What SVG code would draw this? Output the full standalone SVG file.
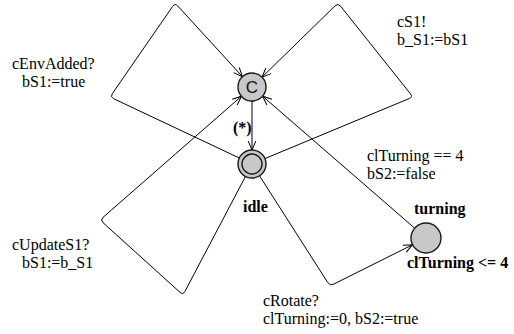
<svg xmlns="http://www.w3.org/2000/svg" width="514" height="334" viewBox="0 0 514 334">
<style>
.loc{fill:#c8c8c8;stroke:#1a1a1a;stroke-width:1.4}
.edge{fill:none;stroke:#000;stroke-width:1}
.lbl{font-family:"Liberation Serif","Times New Roman",serif;font-size:16px;fill:#000}
.bold{font-weight:bold}
.cc{font-family:"Liberation Sans",Arial,sans-serif;font-size:17px;fill:#111}
</style>
<defs>
<marker id="arr" markerUnits="userSpaceOnUse" markerWidth="12" markerHeight="12" viewBox="-10 -6 12 12" refX="0" refY="0" orient="auto" overflow="visible">
<path d="M-9,-3.8 L0,0 L-9,3.8" fill="none" stroke="#000" stroke-width="1"/>
</marker>
</defs>
<g id="connectors">
<path class="edge" marker-end="url(#arr)" d="M239.3,158 L113.6,98.7 Q110,97 112.3,93.7 L172.7,6.3 Q175,3 177.7,5.9 L242.5,76.7"/>
<path class="edge" marker-end="url(#arr)" d="M245.5,176.4 L184.9,291.5 Q183,295 180,292.3 L103,222.7 Q100,220 103,217.4 L241.5,96.2"/>
<path class="edge" marker-end="url(#arr)" d="M264.9,158.6 L409.3,98.5 Q413,97 410.5,93.9 L340.5,6.1 Q338,3 335.1,5.8 L262,77.2"/>
<path class="edge" marker-end="url(#arr)" d="M414.7,228.2 L262.6,96.2"/>
<path class="edge" marker-end="url(#arr)" d="M259.5,175.8 L327.8,282.6 Q330,286 333.6,284.2 L412.6,244.7"/>
<path class="edge" marker-end="url(#arr)" d="M252,101 L252,150"/>
<text class="lbl" x="12" y="69">cEnvAdded?</text>
<text class="lbl" x="22" y="87">bS1:=true</text>
<text class="lbl" x="397" y="27">cS1!</text>
<text class="lbl" x="397" y="45">b_S1:=bS1</text>
<text class="lbl" x="367" y="161">clTurning == 4</text>
<text class="lbl" x="367" y="179">bS2:=false</text>
<text class="lbl" x="12" y="250">cUpdateS1?</text>
<text class="lbl" x="22" y="268">bS1:=b_S1</text>
<text class="lbl" x="263" y="306">cRotate?</text>
<text class="lbl" x="263" y="324">clTurning:=0, bS2:=true</text>
<text class="lbl bold" x="233" y="133">(*)</text>
</g>
<g id="node-committed">
<circle class="loc" cx="252" cy="87" r="14"/>
<text class="cc" x="252" y="93" text-anchor="middle">C</text>
</g>
<g id="node-idle">
<circle class="loc" cx="252" cy="164" r="14"/>
<circle class="loc" cx="252" cy="164" r="10"/>
<text class="lbl bold" x="243" y="212">idle</text>
</g>
<g id="node-turning">
<circle class="loc" cx="426" cy="238" r="15"/>
<text class="lbl bold" x="414" y="214">turning</text>
<text class="lbl bold" x="407" y="268">clTurning &lt;= 4</text>
</g>
</svg>
